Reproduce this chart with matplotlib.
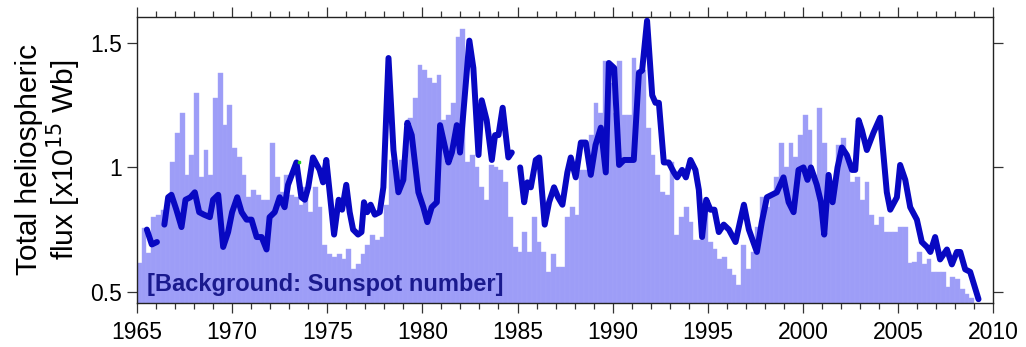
import numpy as np
import matplotlib
matplotlib.use('Agg')
import matplotlib.pyplot as plt
from matplotlib.ticker import MultipleLocator

plt.rcParams['font.family'] = ['Liberation Sans', 'DejaVu Sans']

# Sunspot number background, quarterly bins starting 1965.0 (in flux-axis units)
ssn_start = 1965.0
ssn_step = 0.25
ssn_bars = [
    0.615, 0.755, 0.655, 0.80,   # 1965
    0.81, 0.83, 0.84, 1.02,      # 1966
    1.14, 1.22, 0.97, 1.05,      # 1967
    1.30, 0.96, 1.07, 0.97,      # 1968
    1.28, 1.38, 1.17, 1.25,      # 1969
    1.08, 1.04, 0.97, 0.88,      # 1970
    0.91, 0.89, 0.87, 0.87,      # 1971
    1.10, 0.96, 0.90, 0.97,      # 1972
    0.89, 0.88, 0.85, 0.92,      # 1973
    0.82, 0.92, 0.84, 0.69,      # 1974
    0.65, 0.64, 0.65, 0.63,      # 1975
    0.67, 0.59, 0.61, 0.65,      # 1976
    0.69, 0.73, 0.71, 0.72,      # 1977
    0.85, 1.03, 0.97, 1.03,      # 1978
    1.03, 1.20, 1.28, 1.41,      # 1979
    1.39, 1.36, 1.34, 1.37,      # 1980
    1.19, 1.21, 1.26, 1.525,     # 1981
    1.556, 1.02, 1.05, 1.00,     # 1982
    0.92, 0.87, 1.01, 1.00,      # 1983
    0.99, 0.94, 0.80, 0.68,      # 1984
    0.66, 0.74, 0.66, 0.80,      # 1985
    0.70, 0.66, 0.58, 0.65,      # 1986
    0.60, 0.60, 0.80, 0.84,      # 1987
    0.81, 0.99, 0.99, 1.13,      # 1988
    1.26, 1.22, 1.43, 1.34,      # 1989
    1.22, 1.43, 1.21, 1.21,      # 1990
    1.44, 1.39, 1.39, 1.16,      # 1991
    1.05, 0.97, 0.90, 0.89,      # 1992
    1.02, 0.73, 0.80, 0.84,      # 1993
    0.78, 0.71, 0.71, 0.84,      # 1994
    0.70, 0.67, 0.63, 0.64,      # 1995
    0.59, 0.567, 0.527, 0.69,    # 1996
    0.59, 0.66, 0.76, 0.88,      # 1997
    0.84, 0.89, 0.96, 1.10,      # 1998
    1.00, 1.10, 1.04, 1.13,      # 1999
    1.21, 1.15, 0.97, 1.24,      # 2000
    1.10, 0.97, 0.93, 1.09,      # 2001
    1.12, 1.05, 0.94, 0.96,      # 2002
    0.87, 0.94, 0.81, 0.77,      # 2003
    0.80, 0.74, 0.74, 0.74,      # 2004
    0.76, 0.76, 0.615, 0.62,     # 2005
    0.66, 0.61, 0.63, 0.58,      # 2006
    0.58, 0.58, 0.52, 0.56,      # 2007
    0.55, 0.51, 0.49, 0.475,     # 2008
]

# Total heliospheric flux [x10^15 Wb]; NaN marks data gaps
flux_year = [
    1965.52, 1965.78, 1966.05, np.nan,
    1966.44, 1966.64, 1966.81, 1967.07, 1967.34, 1967.55, 1967.81, 1968.04, 1968.27, 1968.52,
    1968.83, 1969.00, 1969.27, 1969.53, 1969.79, 1970.00, 1970.27, 1970.50, 1970.76, 1971.02,
    1971.29, 1971.55, 1971.81, 1971.97, 1972.24, 1972.50, 1972.76, 1972.94, 1973.38, 1973.64,
    1973.82, 1974.00, 1974.25, 1974.60, 1974.78, 1974.95, 1975.13, 1975.36, 1975.60, 1975.78,
    1976.00, 1976.18, 1976.36, 1976.62, 1976.80, 1976.93, 1977.10, 1977.28, 1977.50, 1977.76,
    1977.95, 1978.22, 1978.48, 1978.74, 1979.00, 1979.21, 1979.44, 1979.79, 1980.05, 1980.26,
    1980.49, 1980.76, 1980.93, 1981.37, 1981.55, 1981.81, 1981.98, 1982.47, 1982.68, 1982.95,
    1983.12, 1983.38, 1983.65, 1983.82, 1984.00, 1984.22, 1984.52, 1984.70, np.nan,
    1985.14, 1985.35, 1985.52, 1985.70, 1985.96, 1986.14, 1986.43, 1986.66, 1986.92, 1987.13,
    1987.36, 1987.62, 1987.80, 1988.06, 1988.33, 1988.59, 1988.85, 1989.10, 1989.38, 1989.64,
    1989.80, 1990.08, 1990.34, 1990.60, 1991.11, 1991.38, 1991.55, 1991.81, 1992.08, 1992.25,
    1992.43, 1992.69, 1992.95, 1993.22, 1993.39, 1993.65, 1993.85, 1994.09, 1994.35, 1994.53,
    1994.70, 1994.92, 1995.14, 1995.35, 1995.58, 1995.84, 1996.11, 1996.46, 1996.72, 1996.90,
    1997.16, 1997.58, 1997.84, 1998.11, 1998.37, 1998.63, 1998.98, 1999.25, 1999.51, 1999.77,
    2000.03, 2000.24, 2000.42, 2000.73, 2000.95, 2001.12, 2001.35, 2001.56, 2001.82, 2002.05,
    2002.31, 2002.58, 2002.75, 2002.93, 2003.10, 2003.36, 2003.71, 2004.06, 2004.41, 2004.59,
    2004.94, 2005.11, 2005.38, 2005.64, 2005.99, 2006.25, 2006.52, 2006.70, 2006.95, 2007.21,
    2007.57, 2007.83, 2008.09, 2008.27, 2008.53, 2008.79, 2009.23,
]
flux_value = [
    0.75, 0.69, 0.70, np.nan,
    0.77, 0.88, 0.89, 0.83, 0.76, 0.87, 0.88, 0.90, 0.82, 0.81,
    0.80, 0.87, 0.89, 0.68, 0.74, 0.82, 0.88, 0.82, 0.79, 0.79,
    0.72, 0.72, 0.67, 0.80, 0.82, 0.88, 0.84, 0.93, 1.02, 0.88,
    0.87, 0.92, 1.04, 0.99, 0.94, 1.03, 0.90, 0.73, 0.87, 0.83,
    0.93, 0.82, 0.75, 0.73, 0.74, 0.86, 0.82, 0.85, 0.81, 0.82,
    0.92, 1.44, 1.07, 0.90, 0.95, 1.18, 1.13, 0.90, 0.84, 0.78,
    0.84, 0.86, 1.17, 1.02, 1.06, 1.17, 1.06, 1.51, 1.40, 1.05,
    1.27, 1.19, 1.03, 1.13, 1.13, 1.24, 1.04, 1.06, np.nan,
    1.00, 0.86, 0.94, 0.92, 1.03, 1.04, 0.77, 0.86, 0.92, 0.88,
    0.85, 0.98, 1.04, 0.96, 1.10, 1.10, 0.97, 1.09, 1.16, 0.98,
    1.42, 1.40, 1.01, 1.03, 1.03, 1.38, 1.39, 1.59, 1.29, 1.26,
    1.26, 1.02, 1.02, 0.98, 0.96, 0.99, 0.96, 1.03, 0.99, 0.91,
    0.72, 0.87, 0.83, 0.83, 0.74, 0.77, 0.75, 0.70, 0.79, 0.85,
    0.75, 0.66, 0.78, 0.88, 0.89, 0.90, 0.96, 0.86, 0.82, 0.99,
    1.00, 0.95, 1.00, 0.93, 0.86, 0.73, 0.97, 0.86, 1.00, 1.08,
    1.05, 0.99, 0.99, 1.19, 1.15, 1.07, 1.14, 1.20, 0.90, 0.83,
    0.88, 1.01, 0.95, 0.84, 0.79, 0.70, 0.68, 0.66, 0.72, 0.63,
    0.67, 0.61, 0.66, 0.66, 0.59, 0.58, 0.47,
]

bar_left = ssn_start + ssn_step * np.arange(len(ssn_bars))
y_bottom = 0.455

fig = plt.figure(figsize=(10.26, 3.47), dpi=100)
ax = fig.add_axes([0.1335, 0.127, 0.8345, 0.824])

ax.bar(bar_left, np.array(ssn_bars) - y_bottom, bottom=y_bottom, width=ssn_step,
       align='edge', color='#9d9df7', edgecolor='#a6a6f8', linewidth=0.3, zorder=1)
ax.plot(flux_year, flux_value, color='#0808c2', linewidth=4.3,
        solid_joinstyle='round', solid_capstyle='round', zorder=3)
ax.plot([1973.5], [1.02], 's', color='#22cc22', markersize=1.5, zorder=4)

ax.text(0.012, 0.064, '[Background: Sunspot number]', transform=ax.transAxes,
        fontsize=17, fontweight='bold', color='#1a1a8e', va='center', ha='left', zorder=5)

ax.set_xlim(1965, 2010)
ax.set_ylim(y_bottom, 1.605)
ax.xaxis.set_major_locator(MultipleLocator(5))
ax.xaxis.set_minor_locator(MultipleLocator(1))
ax.set_yticks([0.5, 1, 1.5])
ax.set_yticklabels(['0.5', '1', '1.5'])
ax.tick_params(axis='both', which='both', direction='out', top=True, right=True,
               labelsize=16.5, color='#333333', width=0.9)
ax.tick_params(axis='both', which='major', length=7, pad=4)
ax.tick_params(axis='x', which='major', pad=6)
ax.tick_params(axis='x', which='minor', length=4)
for s in ax.spines.values():
    s.set_linewidth(1.0)
    s.set_color('#222222')

ax.set_ylabel('Total heliospheric\nflux [x10$^{15}$ Wb]', fontsize=21.5, linespacing=1.05,
              labelpad=5)

fig.savefig('out.png', dpi=100)
